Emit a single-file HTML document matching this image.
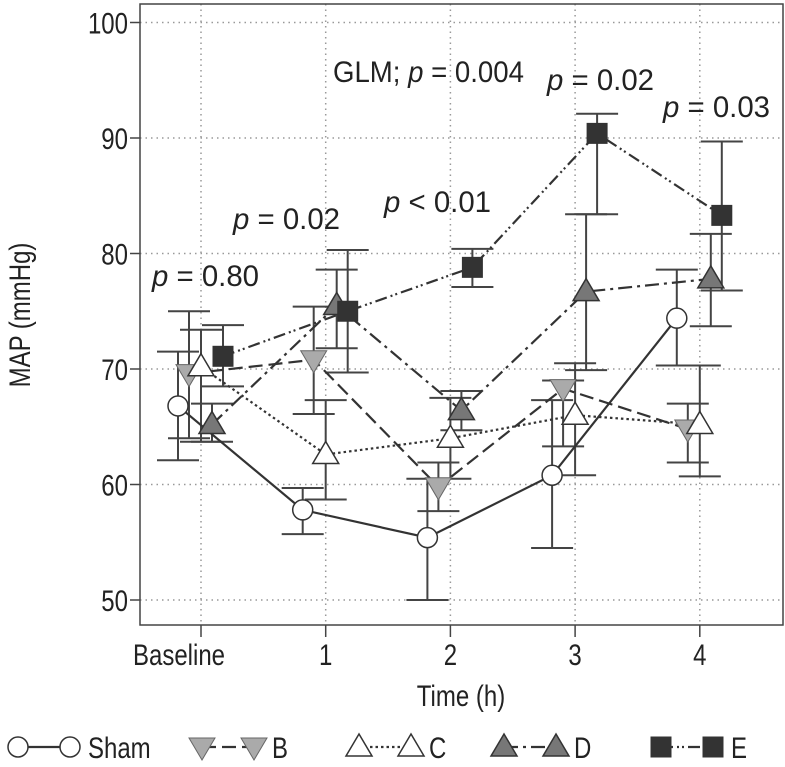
<!DOCTYPE html>
<html><head><meta charset="utf-8"><style>
html,body{margin:0;padding:0;background:#fff}
svg{display:block}
text{font-family:"Liberation Sans",sans-serif;fill:#222}
</style></head><body>
<svg id="chart" width="785" height="767" viewBox="0 0 785 767" xmlns="http://www.w3.org/2000/svg"></svg>
<script>
const categories=["Baseline","1","2","3","4"];
const yTicks=[50,60,70,80,90,100];
const seriesNames=["Sham","B","C","D","E"];
const shamVals=[66.8,57.8,55.4,60.8,74.4];
const shamLo=[62.1,55.7,50.0,54.5,70.3];
const shamHi=[71.5,59.7,60.5,67.3,78.6];
const bVals=[69.6,70.8,59.8,68.3,64.8];
const bLo=[64.0,66.1,57.7,63.3,61.9];
const bHi=[75.0,75.4,61.9,69.0,67.0];
const cVals=[70.2,62.6,64.0,66.0,65.2];
const cLo=[63.7,58.7,60.5,60.8,60.7];
const cHi=[73.4,67.3,67.5,70.5,70.3];
const dVals=[65.2,75.5,66.4,76.7,77.8];
const dLo=[63.7,71.8,64.7,69.9,73.7];
const dHi=[67.0,78.6,68.1,83.4,81.7];
const eVals=[71.1,75.0,78.8,90.4,83.3];
const eLo=[68.5,69.7,77.1,83.4,76.8];
const eHi=[73.8,80.3,80.4,92.1,89.7];
const pLabels=["p = 0.80","p = 0.02","p < 0.01","p = 0.02","p = 0.03"];

const svg=document.getElementById('chart');
const NS="http://www.w3.org/2000/svg";
function el(t,a,p){const e=document.createElementNS(NS,t);for(const k in a)e.setAttribute(k,a[k]);(p||svg).appendChild(e);return e;}
const X0=201,DX=124.7;
function xs(i){return X0+i*DX;}
function ys(v){return 600-(v-50)*11.55;}
const L=140,R=783,T=4,B=625;
function sc(x,s){return `translate(${x},0) scale(${s},1) translate(${-x},0)`;}

yTicks.forEach(v=>{const g=el('line',{x1:L,x2:R,y1:ys(v),y2:ys(v),stroke:'#999','stroke-width':1.5,'stroke-dasharray':'1.5 4'});
});
categories.forEach((c,i)=>{const g=el('line',{x1:xs(i),x2:xs(i),y1:T,y2:B,stroke:'#999','stroke-width':1.5,'stroke-dasharray':'1.5 4'});
});
const fr=el('rect',{x:L,y:T,width:R-L,height:B-T,fill:'none',stroke:'#444','stroke-width':1.5});

yTicks.forEach(v=>{el('line',{x1:L-10,x2:L,y1:ys(v),y2:ys(v),stroke:'#444','stroke-width':1.5});
const t=el('text',{x:L-12,y:ys(v)+11,'text-anchor':'end','font-size':30,transform:sc(L-12,0.8)});t.textContent=v;
});
categories.forEach((c,i)=>{el('line',{x1:xs(i),x2:xs(i),y1:B,y2:B+12,stroke:'#444','stroke-width':1.5});
const cx=i==0?xs(i)-22:xs(i);
const t=el('text',{x:cx,y:665,'text-anchor':'middle','font-size':30,transform:sc(cx,0.8)});t.textContent=c;
});
let t=el('text',{x:461,y:706,'text-anchor':'middle','font-size':30,transform:sc(461,0.8)});t.textContent='Time (h)';

t=el('text',{x:0,y:0,'text-anchor':'middle','font-size':30,transform:'translate(30,315) rotate(-90) scale(0.8,1)'});t.textContent='MAP (mmHg)';


const series=[
{name:'sham',v:shamVals,lo:shamLo,hi:shamHi,off:-23,dash:'',m:'circle',fill:'#fff'},
{name:'b',v:bVals,lo:bLo,hi:bHi,off:-12,dash:'14 6',m:'tridown',fill:'#aaa'},
{name:'c',v:cVals,lo:cLo,hi:cHi,off:0,dash:'2.5 3',m:'triup',fill:'#fff'},
{name:'d',v:dVals,lo:dLo,hi:dHi,off:11,dash:'14 5 3 5',m:'triup',fill:'#777'},
{name:'e',v:eVals,lo:eLo,hi:eHi,off:22,dash:'12 4 2 3 2 4',m:'square',fill:'#333'}];
function marker(m,x,y,fill,g){
 if(m=='circle')return el('circle',{cx:x,cy:y,r:10,fill:fill,stroke:'#333','stroke-width':1.5},g);
 if(m=='square')return el('rect',{x:x-10,y:y-10,width:20,height:20,fill:fill,stroke:'#333','stroke-width':1},g);
 if(m=='triup')return el('polygon',{points:`${x},${y-13} ${x-13},${y+9} ${x+13},${y+9}`,fill:fill,stroke:'#333','stroke-width':1.5},g);
 return el('polygon',{points:`${x},${y+13} ${x-13},${y-9} ${x+13},${y-9}`,fill:fill,stroke:'#666','stroke-width':1},g);
}
series.forEach(s=>{const g=el('g',{});
 s.v.forEach((v,i)=>{const x=xs(i)+s.off;
 el('line',{x1:x,x2:x,y1:ys(s.lo[i]),y2:ys(s.hi[i]),stroke:'#444','stroke-width':2},g);
 el('line',{x1:x-21,x2:x+21,y1:ys(s.lo[i]),y2:ys(s.lo[i]),stroke:'#444','stroke-width':2},g);
 el('line',{x1:x-21,x2:x+21,y1:ys(s.hi[i]),y2:ys(s.hi[i]),stroke:'#444','stroke-width':2},g);});});
series.forEach(s=>{const pts=s.v.map((v,i)=>`${xs(i)+s.off},${ys(v)}`).join(' ');
 const a={points:pts,fill:'none',stroke:'#333','stroke-width':2.2};if(s.dash)a['stroke-dasharray']=s.dash;
 const p=el('polyline',a);});
series.forEach(s=>{s.v.forEach((v,i)=>{const mk=marker(s.m,xs(i)+s.off,ys(v),s.fill);
 });});

const pPos=[[152,286],[233,229],[384,212],[547,90],[663,117]];
pLabels.forEach((p,i)=>{const [x,y]=pPos[i];
 const tt=el('text',{x:x,y:y,'font-size':30,transform:sc(x,0.98)});
 
 const it=el('tspan',{'font-style':'italic'},tt);it.textContent='p';
 const r=el('tspan',{},tt);r.textContent=p.slice(1);});
t=el('text',{x:333,y:82,'font-size':30,transform:sc(333,0.92)});

el('tspan',{},t).textContent='GLM; ';el('tspan',{'font-style':'italic'},t).textContent='p';el('tspan',{},t).textContent=' = 0.004';

const legX=[8,192,349,494,651];
series.forEach((s,i)=>{const g=el('g',{});
 const x=legX[i],y=747;const a={x1:x+10,x2:x+62,y1:y,y2:y,stroke:'#333','stroke-width':2.2};if(s.dash)a['stroke-dasharray']=s.dash;
 el('line',a,g);marker(s.m,x+10,y,s.fill,g);marker(s.m,x+62,y,s.fill,g);
 const tx=x+80;const lt=el('text',{x:tx,y:y+11,'font-size':30,transform:sc(tx,0.8)},g);lt.textContent=seriesNames[i];});
</script>
</body></html>
